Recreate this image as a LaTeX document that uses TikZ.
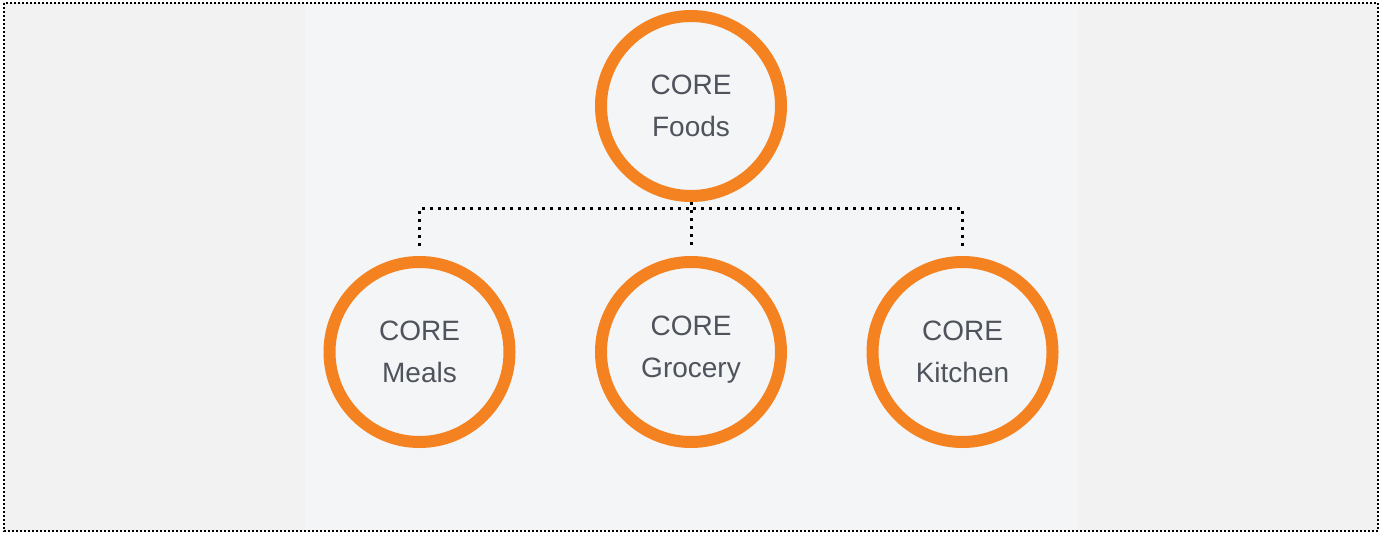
\documentclass[tikz,border=0pt]{standalone}
\usepackage{fontspec}
\setmainfont{Liberation Sans}
\definecolor{coreorange}{HTML}{F58220}
\definecolor{coretext}{HTML}{4F535B}
\definecolor{pagegray}{HTML}{F2F2F2}
\definecolor{panelgray}{HTML}{F4F5F7}
\begin{document}
\begin{tikzpicture}[
        x=1pt, y=1pt,
        level distance=246pt,
        level 1/.style={sibling distance=271.5pt},
        core/.style={draw=coreorange, circle, line width=12pt, minimum size=180pt,
            align=center, text=coretext, font=\fontsize{28}{42}\selectfont},
        edge from parent/.style={draw, black, line width=3pt, dash pattern=on 3pt off 5pt},
        edge from parent path={(\tikzparentnode.south) -- ++(0,-6) -| ([yshift=8pt]\tikzchildnode.north)},
    ]
    \useasboundingbox (0,0) rectangle (1384,-533);
    % page and centre panel
    \fill[pagegray] (4,-3) rectangle (1378,-531);
    \fill[panelgray] (305,-3) rectangle (1078,-531);
    \draw[black, line width=1.5pt, dash pattern=on 2pt off 2pt] (4,-3) rectangle (1378,-531);
    \node[core](foods) at (691,-106) {CORE\\Foods}
    child{node[core](meals){CORE\\Meals}}
    child{node[core](grocery){CORE\\Grocery\\[-32pt]}}
    child{node[core](kitchen){CORE\\Kitchen}}
    ;
\end{tikzpicture}
\end{document}
